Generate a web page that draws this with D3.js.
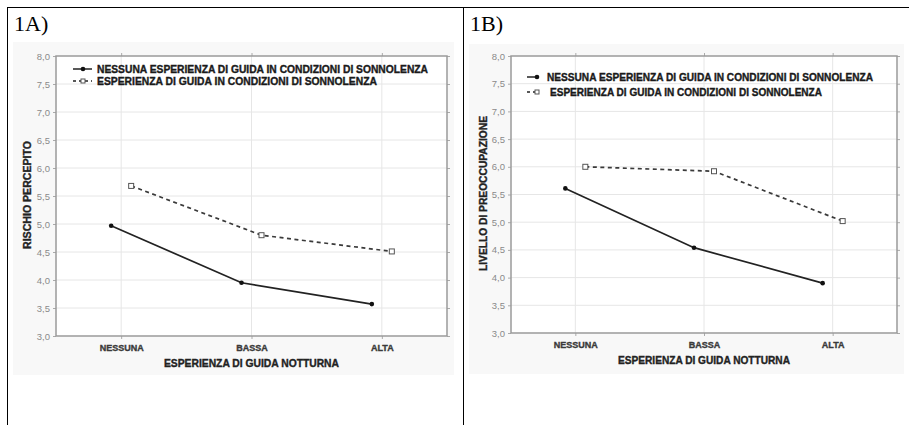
<!DOCTYPE html>
<html><head><meta charset="utf-8">
<script src="https://cdn.jsdelivr.net/npm/d3@7"></script>
<style>body{margin:0;background:#fff}svg{display:block}</style>
</head><body>
<svg id="c" width="909" height="425"></svg>
<script>
// ---- data ----
const categories = ["NESSUNA", "BASSA", "ALTA"];
const yTickValues = [3.0, 3.5, 4.0, 4.5, 5.0, 5.5, 6.0, 6.5, 7.0, 7.5, 8.0];
const yTickLabels = ["3,0", "3,5", "4,0", "4,5", "5,0", "5,5", "6,0", "6,5", "7,0", "7,5", "8,0"];
const seriesNames = ["NESSUNA ESPERIENZA DI GUIDA IN CONDIZIONI DI SONNOLENZA",
                     "ESPERIENZA DI GUIDA IN CONDIZIONI DI SONNOLENZA"];
const panelTitles = ["1A)", "1B)"];
const yTitles = ["RISCHIO PERCEPITO", "LIVELLO DI PREOCCUPAZIONE"];
const xTitle = "ESPERIENZA DI GUIDA NOTTURNA";
const riskNoSleepy = [4.97, 3.95, 3.57];
const riskSleepy = [5.68, 4.80, 4.51];
const worryNoSleepy = [5.61, 4.54, 3.90];
const worrySleepy = [6.00, 5.92, 5.02];

const svg = d3.select("#c");
const FONT = "Arial, 'Liberation Sans', sans-serif";

// table frame
svg.append("line").attr("x1", 7).attr("x2", 909).attr("y1", 7.5).attr("y2", 7.5).attr("stroke", "#000");
svg.append("line").attr("x1", 7.5).attr("x2", 7.5).attr("y1", 7).attr("y2", 425).attr("stroke", "#000");
svg.append("line").attr("x1", 463.5).attr("x2", 463.5).attr("y1", 7).attr("y2", 425).attr("stroke", "#000");

const panels = [
  {title: panelTitles[0], tx: 14, bg: [13, 42, 441, 333], plot: [56, 56, 447, 336], yTitle: yTitles[0], ytx: 27, ytw: 108, xtw: 175,
   series: [riskNoSleepy, riskSleepy],
   legend: {rows: [69, 81], s0: 73, s1: 92, m: 83, tx: [97, 97], tw: [331, 280]}},
  {title: panelTitles[1], tx: 470, bg: [469, 44, 435, 330], plot: [511, 56, 897, 333], yTitle: yTitles[1], ytx: 483, ytw: 155, xtw: 172,
   series: [worryNoSleepy, worrySleepy],
   legend: {rows: [77, 92], s0: 527, s1: 538, m: 537, tx: [547, 550], tw: [326, 272]}}
];

function boldText(sel, size, color) {
  return sel.attr("font-family", FONT).attr("font-size", size).attr("font-weight", "bold")
    .attr("fill", color).attr("stroke", color).attr("stroke-width", 0.35);
}

panels.forEach(p => {
  const [x0, y0, x1, y1] = p.plot;
  svg.append("text").attr("x", p.tx).attr("y", 31).attr("font-family", "'Liberation Serif', 'Times New Roman', serif")
    .attr("font-size", 22).attr("fill", "#000").text(p.title);
  svg.append("rect").attr("x", p.bg[0]).attr("y", p.bg[1]).attr("width", p.bg[2]).attr("height", p.bg[3]).attr("fill", "#f8f8f8");
  svg.append("rect").attr("x", x0).attr("y", y0).attr("width", x1 - x0).attr("height", y1 - y0).attr("fill", "#fff");

  const x = d3.scalePoint().domain(categories).range([x0, x1]).padding(0.5);
  const y = d3.scaleLinear().domain([3, 8]).range([y1, y0]);
  const g = svg.append("g");

  // grid
  g.selectAll(".hg").data(yTickValues.slice(1, -1)).join("line")
    .attr("x1", x0).attr("x2", x1).attr("y1", d => y(d)).attr("y2", d => y(d)).attr("stroke", "#e6e6e6");
  g.selectAll(".vg").data(categories).join("line")
    .attr("x1", d => x(d)).attr("x2", d => x(d)).attr("y1", y0).attr("y2", y1).attr("stroke", "#e6e6e6");

  // y axis
  const ya = d3.axisLeft(y).tickValues(yTickValues).tickFormat((d, i) => yTickLabels[i]).tickSize(3).tickPadding(3);
  const yg = g.append("g").attr("transform", `translate(${x0},0)`).call(ya);
  yg.select(".domain").remove();
  yg.selectAll("line").attr("stroke", "#aaa");
  yg.selectAll("text").attr("font-family", FONT).attr("font-size", 9.5).attr("fill", "#8a8a8a");
  const yr = d3.axisRight(y).tickValues(yTickValues).tickFormat("").tickSize(3);
  const yrg = g.append("g").attr("transform", `translate(${x1},0)`).call(yr);
  yrg.select(".domain").remove();
  yrg.selectAll("line").attr("stroke", "#aaa");

  // x axis
  const xa = d3.axisBottom(x).tickSize(3).tickPadding(6);
  const xg = g.append("g").attr("transform", `translate(0,${y1})`).call(xa);
  xg.select(".domain").remove();
  xg.selectAll("line").attr("stroke", "#aaa");
  boldText(xg.selectAll("text"), 9, "#3a3a3a");
  const xt = d3.axisTop(x).tickFormat("").tickSize(3);
  const xtg = g.append("g").attr("transform", `translate(0,${y0})`).call(xt);
  xtg.select(".domain").remove();
  xtg.selectAll("line").attr("stroke", "#aaa");

  // frame
  g.append("rect").attr("x", x0).attr("y", y0).attr("width", x1 - x0).attr("height", y1 - y0)
    .attr("fill", "none").attr("stroke", "#9a9a9a").attr("stroke-width", 1.5);

  // titles
  boldText(svg.append("text").attr("x", (x0 + x1) / 2).attr("y", y1 + 31).attr("text-anchor", "middle"), 10.5, "#222")
    .attr("textLength", p.xtw).attr("lengthAdjust", "spacingAndGlyphs").text(xTitle);
  boldText(svg.append("text").attr("transform", `translate(${p.ytx + 4},${(y0 + y1) / 2 - 1}) rotate(-90)`).attr("text-anchor", "middle"), 10, "#222")
    .attr("textLength", p.ytw).attr("lengthAdjust", "spacingAndGlyphs").text(p.yTitle);

  // lines
  const offs = [-10, 10];
  const line = d3.line().x(d => d[0]).y(d => d[1]);
  p.series.forEach((vals, si) => {
    const pts = vals.map((v, i) => [x(categories[i]) + offs[si], y(v)]);
    g.append("path").attr("d", line(pts)).attr("fill", "none").attr("stroke", si ? "#3a3a3a" : "#222")
      .attr("stroke-width", 1.7).attr("stroke-dasharray", si ? "4,3.5" : null);
    if (si === 0) {
      g.selectAll(null).data(pts).join("circle").attr("cx", d => d[0]).attr("cy", d => d[1]).attr("r", 2.3).attr("fill", "#111");
    } else {
      g.selectAll(null).data(pts).join("rect").attr("x", d => d[0] - 2.5).attr("y", d => d[1] - 2.5)
        .attr("width", 5).attr("height", 5).attr("fill", "#fff").attr("stroke", "#555").attr("stroke-width", 1);
    }
  });

  // legend
  const L = p.legend;
  seriesNames.forEach((name, si) => {
    const ly = L.rows[si];
    svg.append("line").attr("x1", L.s0).attr("x2", L.s1).attr("y1", ly).attr("y2", ly)
      .attr("stroke", "#222").attr("stroke-width", 1.5).attr("stroke-dasharray", si ? "3,3" : null);
    if (si === 0) svg.append("circle").attr("cx", L.m).attr("cy", ly).attr("r", 2.3).attr("fill", "#111");
    else svg.append("rect").attr("x", L.m - 2).attr("y", ly - 2).attr("width", 4).attr("height", 4)
      .attr("fill", "#fff").attr("stroke", "#555");
    boldText(svg.append("text").attr("x", L.tx[si]).attr("y", ly + 3.8), 10, "#1a1a1a")
      .attr("textLength", L.tw[si]).attr("lengthAdjust", "spacingAndGlyphs").text(name);
  });
});
</script>
</body></html>
